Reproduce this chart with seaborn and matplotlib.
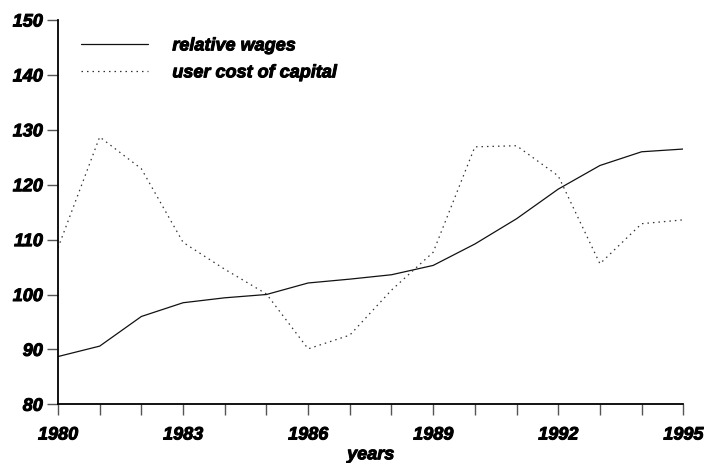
import matplotlib
matplotlib.use("Agg")
import matplotlib.pyplot as plt
import matplotlib.patheffects as pe
import seaborn as sns
import pandas as pd

years = list(range(1980, 1996))
relative_wages = [88.7, 90.6, 96.0, 98.5, 99.4, 100.0, 102.1, 102.8, 103.6, 105.3,
                  109.2, 113.8, 119.2, 123.5, 126.0, 126.5]
user_cost_of_capital = [108.5, 128.7, 122.9, 109.5, 104.6, 100.1, 90.1, 92.6, 100.8, 107.7,
                        126.9, 127.1, 121.6, 105.6, 112.9, 113.6]
series_names = ["relative wages", "user cost of capital"]
y_ticks = [80, 90, 100, 110, 120, 130, 140, 150]
x_label_years = [1980, 1983, 1986, 1989, 1992, 1995]

sns.set_style("ticks")
plt.rcParams["font.family"] = ["Liberation Sans", "DejaVu Sans"]
plt.rcParams["text.color"] = "black"
plt.rcParams["axes.labelcolor"] = "black"
plt.rcParams["xtick.labelcolor"] = "black"
plt.rcParams["ytick.labelcolor"] = "black"

df = pd.DataFrame({
    "year": years * 2,
    "value": relative_wages + user_cost_of_capital,
    "series": [series_names[0]] * len(years) + [series_names[1]] * len(years),
})

fig = plt.figure(figsize=(7.04, 4.64), dpi=100)
ax = fig.add_axes([0.0824, 0.1265, 0.8882, 0.8282])

sns.lineplot(data=df, x="year", y="value", hue="series", style="series",
             palette=["#111111", "#333333"],
             dashes={series_names[0]: "", series_names[1]: (1.2, 3.2)},
             linewidth=0.9, ax=ax, legend=True)

ax.set_xlim(1980, 1995)
ax.set_ylim(80, 150)
ax.set_yticks(y_ticks)
ax.set_xticks(years)
ax.set_xticklabels([str(y) if y in x_label_years else "" for y in years])

# heavy bold-italic lettering for all text
heavy = [pe.withStroke(linewidth=0.7, foreground="black")]


def style_text(t):
    t.set_fontsize(13)
    t.set_fontweight("bold")
    t.set_fontstyle("italic")
    t.set_color("black")
    t.set_path_effects(heavy)


for lab in ax.get_xticklabels() + ax.get_yticklabels():
    style_text(lab)

ax.tick_params(axis="both", direction="out", length=8, width=1.0, color="#555555", pad=3)
ax.tick_params(axis="x", pad=8)
ax.set_xlabel("years", labelpad=2)
style_text(ax.xaxis.label)
ax.set_ylabel("")

for s in ["top", "right"]:
    ax.spines[s].set_visible(False)
for s in ["left", "bottom"]:
    ax.spines[s].set_linewidth(1.3)
    ax.spines[s].set_color("black")

leg = ax.legend(loc="upper left", bbox_to_anchor=(0.011, 0.997), frameon=False,
                handlelength=3.7, handletextpad=1.35, labelspacing=0.55,
                prop=dict(size=13, weight="bold", style="italic"))
for t in leg.get_texts():
    style_text(t)

fig.savefig("out.png", dpi=100)
